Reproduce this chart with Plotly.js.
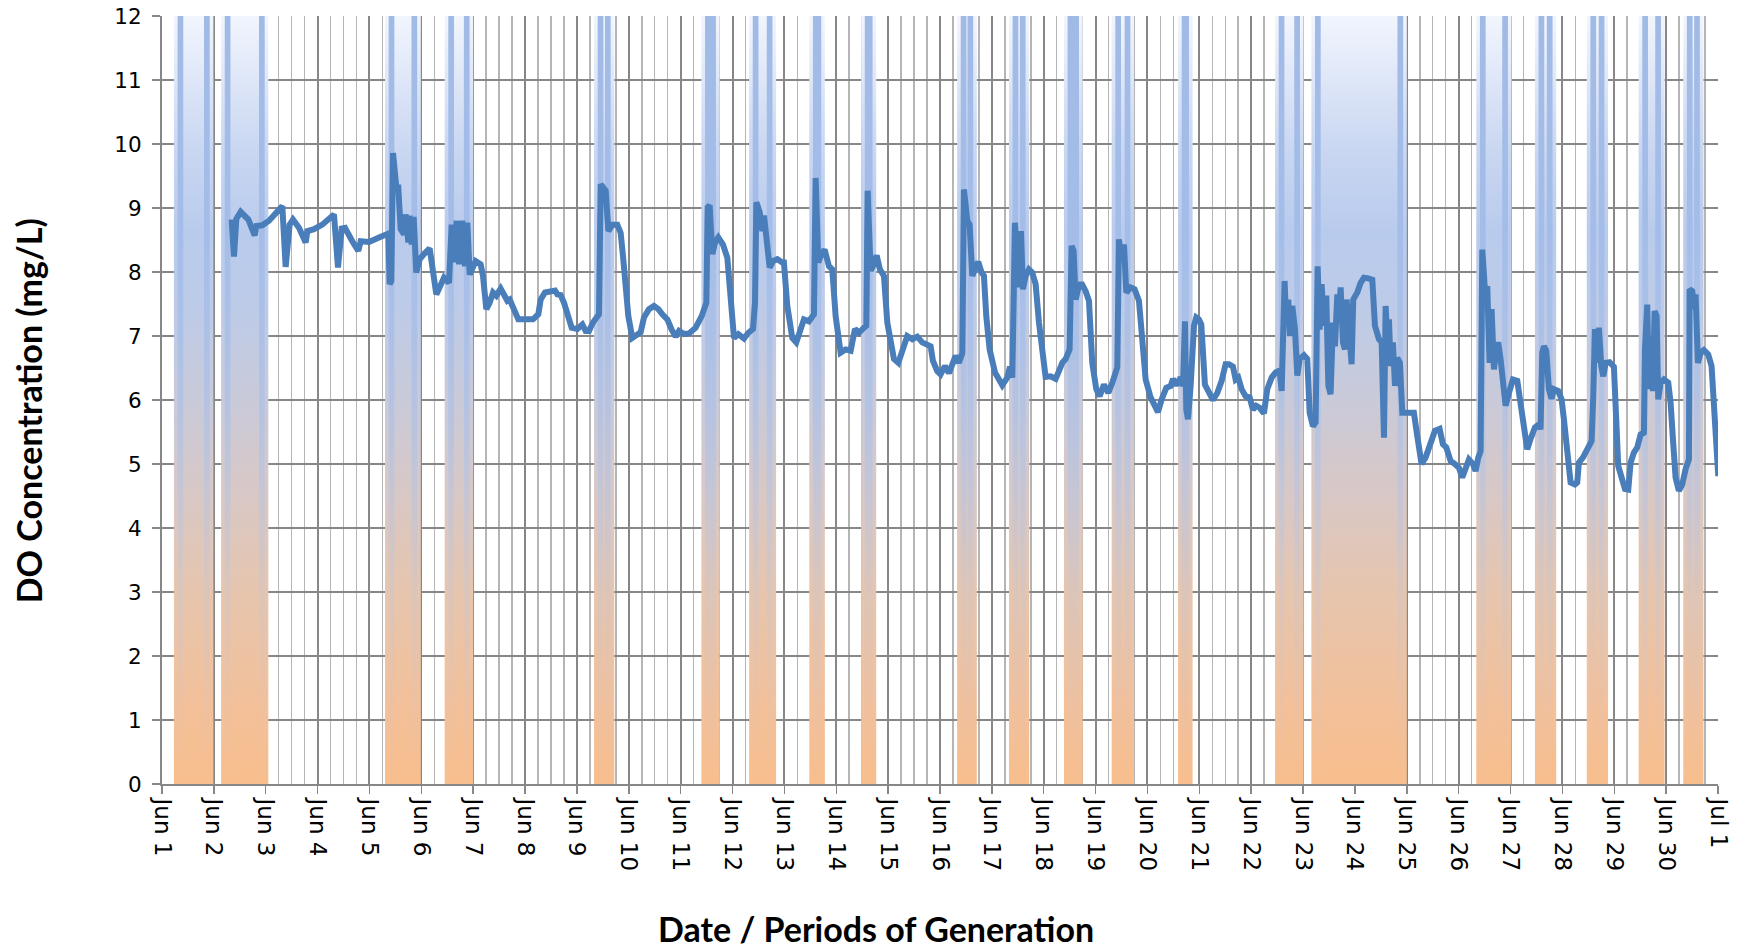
<!DOCTYPE html>
<html>
<head>
<meta charset="utf-8">
<script src="https://cdn.plot.ly/plotly-3.0.1.min.js"></script>
<style>
  html, body { margin: 0; padding: 0; background: #ffffff; }
  #chart { width: 1739px; height: 949px; }
</style>
</head>
<body>
<div id="chart"></div>
<script>
// ---- Tick labels (one per day, Jun 1 .. Jul 1) ----
const dayTicks = [1,2,3,4,5,6,7,8,9,10,11,12,13,14,15,16,17,18,19,20,21,22,23,24,25,26,27,28,29,30,31];
const tickLabels = ["Jun 1","Jun 2","Jun 3","Jun 4","Jun 5","Jun 6","Jun 7","Jun 8","Jun 9","Jun 10",
  "Jun 11","Jun 12","Jun 13","Jun 14","Jun 15","Jun 16","Jun 17","Jun 18","Jun 19","Jun 20",
  "Jun 21","Jun 22","Jun 23","Jun 24","Jun 25","Jun 26","Jun 27","Jun 28","Jun 29","Jun 30","Jul 1"];

// ---- Periods of generation (June day number, fractional) ----
const genStart = [1.23, 2.14, 5.30, 6.45, 9.33, 11.40, 12.32, 13.48, 14.48, 16.33, 17.33, 18.39, 19.31, 20.59, 22.46, 23.16, 26.34, 27.47, 28.47, 29.47, 30.33];
const genEnd   = [1.99, 3.05, 5.99, 7.00, 9.72, 11.75, 12.84, 13.78, 14.77, 16.71, 17.72, 18.75, 19.74, 20.87, 23.01, 25.00, 27.02, 27.88, 28.88, 29.97, 30.72];
const genTop = 12;

// ---- DO concentration (mg/L) vs time (June day number, fractional) ----
const doTime = [
 2.343,2.388,2.433,2.517,2.664,2.786,2.819,2.934,3.063,3.191,3.320,3.384,3.461,3.525,3.641,3.770,3.802,3.930,4.091,4.316,
 4.393,4.464,4.528,4.669,4.785,4.830,4.991,5.184,5.364,5.389,5.421,5.454,5.518,5.556,5.601,5.666,5.698,5.749,5.775,5.813,
 5.852,5.903,5.968,6.051,6.161,6.289,6.373,6.437,6.533,6.585,6.630,6.681,6.726,6.790,6.842,6.887,6.932,7.015,
 7.048,7.144,7.189,7.253,7.317,7.382,7.446,7.530,7.594,7.658,7.703,7.787,7.870,7.979,8.076,8.153,8.256,8.301,8.384,8.494,
 8.577,8.622,8.686,8.751,8.815,8.898,9.008,9.104,9.168,9.233,9.310,9.393,9.425,9.458,9.522,9.554,9.606,9.683,9.779,9.843,
 9.888,9.940,9.991,10.068,10.132,10.229,10.293,10.389,10.486,10.570,10.647,10.743,10.827,10.903,10.968,11.064,11.161,11.289,11.405,11.495,
 11.521,11.559,11.611,11.662,11.726,11.816,11.900,11.964,12.028,12.112,12.221,12.305,12.395,12.433,12.459,12.523,12.575,12.607,12.652,12.716,
 12.780,12.864,12.960,
 12.991,13.056,13.152,13.229,13.293,13.377,13.473,13.570,13.602,13.653,13.698,13.775,13.859,13.923,13.988,14.084,14.180,14.277,14.360,14.437,
 14.534,14.579,14.605,14.662,14.727,14.778,14.842,14.919,14.984,15.112,15.196,15.273,15.369,15.466,15.562,15.658,15.755,15.819,15.864,15.948,
 16.012,16.095,16.173,16.237,16.301,16.365,16.430,16.462,16.526,16.571,16.622,16.674,16.738,16.802,16.847,16.892,16.957,17.060,17.137,17.201,
 17.297,17.349,17.394,17.445,17.471,17.509,17.561,17.599,17.651,17.715,17.779,17.844,17.908,17.972,18.036,18.133,18.229,18.293,18.357,18.422,
 18.499,18.537,18.576,18.615,18.660,18.724,18.808,18.872,
 18.936,19.013,19.078,19.161,19.245,19.322,19.418,19.450,19.495,19.547,19.592,19.675,19.752,19.836,19.900,19.965,20.061,20.144,20.202,20.273,
 20.363,20.447,20.492,20.556,20.640,20.685,20.723,20.749,20.781,20.832,20.897,20.941,20.993,21.038,21.070,21.108,21.173,21.263,21.346,21.430,
 21.507,21.571,21.648,21.700,21.751,21.815,21.892,21.970,22.034,22.098,22.162,22.246,22.310,22.394,22.471,22.548,22.587,22.612,22.644,22.677,
 22.715,22.747,22.792,22.844,22.889,22.934,23.017,23.081,23.127,23.191,23.242,23.281,23.319,23.358,23.403,23.448,23.487,23.531,23.576,23.615,
 23.660,23.692,23.724,23.769,23.808,23.840,23.885,23.936,23.968,24.045,24.110,24.174,24.258,24.335,24.386,24.463,24.515,24.560,24.592,24.624,
 24.656,24.688,24.733,24.772,24.817,24.868,24.913,
 25.009,25.137,25.201,25.285,25.362,25.459,25.542,25.632,25.696,25.761,25.844,25.928,26.005,26.069,26.134,26.198,26.275,26.326,26.378,26.423,
 26.455,26.506,26.551,26.596,26.635,26.680,26.725,26.763,26.808,26.853,26.905,26.969,27.046,27.130,27.194,27.258,27.322,27.386,27.470,27.547,
 27.579,27.611,27.644,27.689,27.740,27.791,27.836,27.920,27.984,28.029,28.093,28.158,28.241,28.286,28.318,28.395,28.479,28.563,28.595,28.627,
 28.672,28.704,28.749,28.788,28.833,28.910,28.993,29.025,29.077,29.141,29.206,29.270,29.315,29.379,29.444,29.508,29.572,29.591,29.636,29.668,
 29.713,29.745,29.777,29.816,29.848,29.893,29.957,30.041,30.086,30.131,30.182,30.246,30.311,30.375,30.440,30.452,30.504,30.548,30.568,30.613,
 30.664,30.728,30.812,30.876,30.921,30.966,31.005
];
const doValue = [
 8.82,8.24,8.83,8.94,8.82,8.57,8.72,8.73,8.80,8.90,9.03,8.08,8.74,8.82,8.69,8.46,8.64,8.67,8.74,8.90,
 8.07,8.68,8.69,8.48,8.33,8.48,8.47,8.54,8.60,7.81,7.86,9.86,9.32,9.32,8.67,8.59,8.90,8.46,8.88,8.43,
 8.86,7.99,8.20,8.28,8.37,7.65,7.78,7.91,7.83,8.74,8.15,8.80,8.12,8.80,8.09,8.77,7.96,8.15,
 8.17,8.12,7.94,7.42,7.52,7.68,7.63,7.74,7.65,7.55,7.57,7.39,7.26,7.26,7.27,7.26,7.34,7.57,7.68,7.70,
 7.71,7.65,7.64,7.52,7.31,7.13,7.11,7.18,7.08,7.08,7.21,7.29,7.34,9.37,9.32,9.27,8.64,8.74,8.74,8.61,
 8.25,7.63,7.31,6.97,7.01,7.06,7.29,7.42,7.47,7.42,7.34,7.26,7.10,6.99,7.08,7.03,7.04,7.13,7.31,7.52,
 9.01,9.04,8.28,8.46,8.54,8.43,8.22,7.52,6.97,7.03,6.96,7.05,7.11,7.52,9.09,8.94,8.64,8.88,8.54,8.07,
 8.17,8.20,8.15,
 8.15,7.47,6.97,6.90,7.03,7.26,7.23,7.34,9.47,8.15,8.25,8.35,8.09,8.04,7.31,6.74,6.79,6.77,7.11,7.05,
 7.13,7.16,9.27,8.02,8.12,8.26,8.04,7.94,7.21,6.64,6.58,6.79,7.00,6.95,6.99,6.90,6.85,6.84,6.61,6.45,
 6.40,6.53,6.42,6.53,6.69,6.58,6.73,9.29,8.80,8.74,7.94,8.04,8.16,7.99,7.94,7.31,6.79,6.43,6.32,6.23,
 6.35,6.52,6.35,8.77,8.41,7.76,8.64,7.73,7.94,8.04,7.99,7.81,7.21,6.69,6.36,6.37,6.33,6.45,6.58,6.64,
 6.79,8.41,8.33,7.57,7.73,7.83,7.70,7.55,
 6.58,6.17,6.06,6.24,6.11,6.27,6.51,8.51,8.22,8.43,7.68,7.76,7.73,7.55,6.90,6.32,6.04,5.91,5.81,6.01,
 6.19,6.22,6.33,6.23,6.35,6.22,7.23,5.85,5.70,6.22,7.16,7.29,7.26,7.18,6.69,6.24,6.14,6.00,6.11,6.30,
 6.56,6.56,6.52,6.32,6.35,6.17,6.06,6.04,5.85,5.91,5.88,5.79,6.17,6.35,6.43,6.46,6.14,7.52,7.86,7.16,
 7.57,7.00,7.47,7.10,6.38,6.64,6.70,6.64,5.80,5.59,5.65,8.09,7.10,7.81,7.16,7.63,6.22,6.09,7.21,6.84,
 7.65,7.31,7.76,6.90,6.79,7.57,7.10,6.56,7.57,7.68,7.83,7.91,7.90,7.88,7.16,6.95,6.90,5.41,7.47,6.90,
 7.26,6.53,6.90,6.22,6.66,6.58,5.80,
 5.81,5.80,5.44,5.00,5.10,5.31,5.52,5.55,5.31,5.26,5.05,5.00,4.94,4.79,4.97,5.07,5.00,4.89,5.10,5.20,
 8.35,7.73,7.78,6.58,7.42,6.48,6.79,6.90,6.64,6.27,5.91,6.11,6.32,6.30,5.96,5.54,5.23,5.39,5.57,5.62,
 5.54,6.74,6.84,6.77,6.17,6.02,6.17,6.14,6.01,5.70,5.23,4.71,4.68,4.71,5.02,5.10,5.23,5.36,6.06,7.11,
 6.58,7.13,6.53,6.37,6.58,6.59,6.52,5.75,4.97,4.79,4.61,4.60,5.02,5.18,5.26,5.46,5.49,6.79,7.49,6.17,
 7.00,6.14,7.39,7.31,6.01,6.27,6.32,6.27,5.96,5.39,4.79,4.58,4.68,4.92,5.07,7.73,7.70,7.42,7.65,6.58,
 6.74,6.78,6.71,6.53,5.85,5.28,4.81
];

// ---- Build band polygons (library fills them) ----
const bandX = [], bandY = [];
const edgeX = [], edgeY = [];
const inset = 0.07, stripeW = 0.11;
for (let i = 0; i < genStart.length; i++) {
  const s = genStart[i], e = genEnd[i];
  bandX.push(s, s, e, e, s, null);
  bandY.push(0, genTop, genTop, 0, 0, null);
  const w = Math.min(stripeW, (e - s) / 2 - inset);
  const a1 = s + inset, a2 = a1 + w;
  const b2 = e - inset, b1 = b2 - w;
  edgeX.push(a1, a1, a2, a2, a1, null, b1, b1, b2, b2, b1, null);
  edgeY.push(0, genTop, genTop, 0, 0, null, 0, genTop, genTop, 0, 0, null);
}

const bandTrace = {
  type: 'scatter', mode: 'lines', x: bandX, y: bandY,
  fill: 'toself', line: {width: 0, color: 'rgba(0,0,0,0)'},
  fillgradient: {
    type: 'vertical', start: 0, stop: 12,
    colorscale: [
      [0, '#f8be8d'], [0.1, '#f3c099'], [0.25, '#e6c5ae'], [0.38, '#d8c8c6'],
      [0.5, '#c9cad9'], [0.62, '#bdcbe8'], [0.72, '#b9cbed'], [0.82, '#c8d6f1'],
      [0.92, '#dfe7f8'], [1, '#f1f5fd']
    ]
  },
  hoverinfo: 'skip', showlegend: false
};

const edgeTrace = {
  type: 'scatter', mode: 'lines', x: edgeX, y: edgeY,
  fill: 'toself', line: {width: 0, color: 'rgba(0,0,0,0)'},
  fillgradient: {
    type: 'vertical', start: 0, stop: 12,
    colorscale: [
      [0, 'rgba(178,196,232,0)'], [0.25, 'rgba(176,196,232,0.2)'], [0.5, 'rgba(168,191,232,0.65)'],
      [0.72, 'rgba(163,188,232,0.95)'], [1, 'rgba(160,186,230,1)']
    ]
  },
  hoverinfo: 'skip', showlegend: false
};

const doTrace = {
  type: 'scatter', mode: 'lines', x: doTime, y: doValue,
  line: {color: '#4a7ebb', width: 6},
  showlegend: false, name: 'DO'
};

const gridDark = '#878787';
const layout = {
  width: 1739, height: 949,
  margin: {l: 162, r: 21, t: 16, b: 165},
  paper_bgcolor: '#ffffff', plot_bgcolor: '#ffffff',
  showlegend: false,
  xaxis: {
    range: [1, 31], tickmode: 'array', tickvals: dayTicks, ticktext: tickLabels,
    tickangle: 90, showgrid: true, gridcolor: gridDark, gridwidth: 2,
    minor: {tickmode: 'linear', tick0: 1, dtick: 0.25, showgrid: true, gridcolor: '#b5b5b5', gridwidth: 1.5, ticks: ''},
    ticks: 'outside', ticklen: 8, tickwidth: 1.5, tickcolor: gridDark,
    showline: true, linecolor: gridDark, linewidth: 2, zeroline: false,
    tickfont: {family: 'DejaVu Sans', size: 23, color: '#000000'},
    fixedrange: true
  },
  yaxis: {
    range: [0, 12], tickmode: 'linear', tick0: 0, dtick: 1,
    showgrid: true, gridcolor: gridDark, gridwidth: 2,
    ticks: 'outside', ticklen: 8, tickwidth: 1.5, tickcolor: gridDark,
    showline: true, linecolor: gridDark, linewidth: 2, zeroline: false,
    tickfont: {family: 'DejaVu Sans', size: 21.5, color: '#000000'},
    ticklabelstandoff: 6,
    fixedrange: true
  },
  annotations: [
    {text: '<b>DO Concentration (mg/L)</b>', xref: 'paper', yref: 'paper',
     x: -0.0853, y: 0.4857, xanchor: 'center', yanchor: 'middle', textangle: -90,
     showarrow: false, font: {family: 'Lato', size: 34, color: '#000000'}},
    {text: '<b>Date / Periods of Generation</b>', xref: 'paper', yref: 'paper',
     x: 0.4589, y: -0.1888, xanchor: 'center', yanchor: 'middle',
     showarrow: false, font: {family: 'Lato', size: 34, color: '#000000'}}
  ]
};

Plotly.newPlot('chart', [bandTrace, edgeTrace, doTrace], layout, {displayModeBar: false, staticPlot: true});
</script>
</body>
</html>
